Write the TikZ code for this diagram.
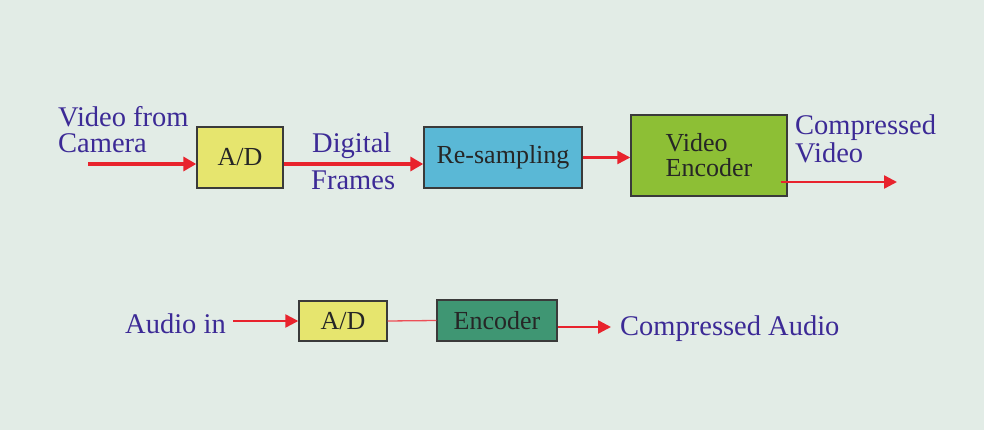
\documentclass[tikz,border=0pt]{standalone}
\usepackage{fontspec}
\setmainfont{Liberation Serif}
\usetikzlibrary{arrows.meta}
\definecolor{bgc}{HTML}{E2ECE6}
\definecolor{lblc}{HTML}{3C2A96}
\definecolor{arr}{HTML}{E8232D}
\definecolor{yelc}{HTML}{E6E56E}
\definecolor{bluc}{HTML}{5AB8D6}
\definecolor{grnc}{HTML}{8DBF35}
\definecolor{tealc}{HTML}{3F9673}
\definecolor{edgec}{HTML}{3A3A3A}
\tikzset{
  blk/.style={draw=edgec, line width=1.4pt, inner sep=0pt, text=black!85,
    font=\fontsize{26pt}{26pt}\selectfont, align=center},
  lbl/.style={text=lblc, font=\fontsize{28.5pt}{28pt}\selectfont, inner sep=0pt, anchor=base west},
  thick arrow/.style={draw=arr, line width=4pt, -{Triangle[length=13pt,width=14pt]}},
  thin arrow/.style={draw=arr, line width=2.4pt, -{Triangle[length=13pt,width=13pt]}},
  thin line/.style={draw=arr!80, line width=1.3pt}
}
\begin{document}
\begin{tikzpicture}[x=1pt,y=-1pt]
\fill[bgc] (0,0) rectangle (984,430);
\useasboundingbox (0,0) rectangle (984,430);
% video chain
\node[blk, fill=yelc, minimum width=86pt, minimum height=61pt] (ad1) at (240,157.5) {A/D};
\node[blk, fill=bluc, minimum width=158pt, minimum height=61pt] (rs) at (503,157.5) {Re-sampling};
\node[blk, fill=grnc, minimum width=156pt, minimum height=81pt, align=left] (ve) at (709,155.5) {Video\\[-1pt]Encoder};
\node[lbl] (t1) at (58,127) {Video from};
\node[lbl] (t2) at (58,153) {Camera};
\node[lbl] (t3) at (312,153) {Digital};
\node[lbl] (t4) at (311,190) {Frames};
\node[lbl] (t5) at (795,135) {Compressed};
\node[lbl] (t6) at (795,163) {Video};
\coordinate (camin) at (88,164);
\coordinate (vout) at (897,182);
\draw[thick arrow] (camin) -- (camin -| ad1.west);
\draw[thick arrow] (ad1.east |- camin) -- (rs.west |- camin);
\draw[thin arrow] (rs.east) -- (rs.east -| ve.west);
\draw[thin arrow] ([xshift=-7pt]ve.east |- vout) -- (vout);
% audio chain
\node[blk, fill=yelc, minimum width=88pt, minimum height=40pt] (ad2) at (343,321) {A/D};
\node[blk, fill=tealc, minimum width=120pt, minimum height=41pt] (enc) at (497,320.5) {Encoder};
\node[lbl] (t7) at (125,333) {Audio in};
\node[lbl] (t8) at (620,335) {Compressed Audio};
\coordinate (ain) at (233,321);
\coordinate (aout) at (611,327);
\draw[thin arrow] (ain) -- (ain -| ad2.west);
\draw[thin line] (ad2.east) -- (enc.west);
\draw[thin arrow] (enc.east |- aout) -- (aout);
\end{tikzpicture}
\end{document}
